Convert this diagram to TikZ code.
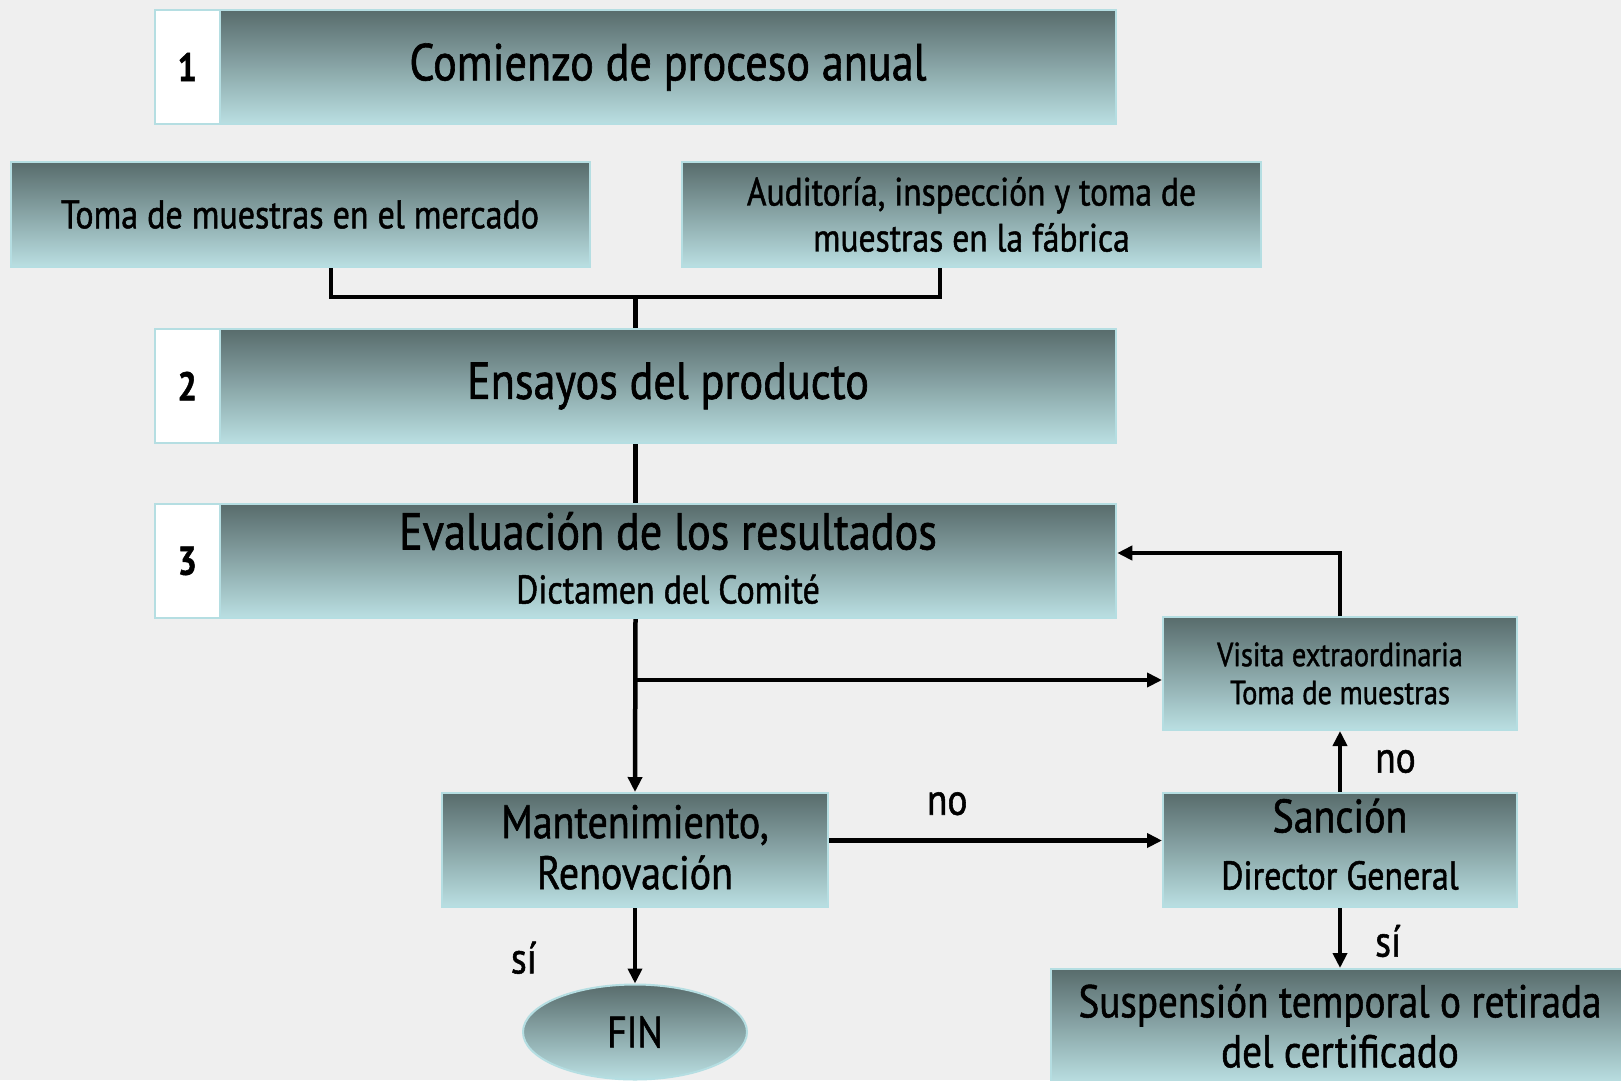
\documentclass[tikz,border=0pt]{standalone}
\usepackage{fontspec}
\setmainfont{PT Sans}[FakeStretch=0.85,FakeBold=1.2]
\usetikzlibrary{arrows.meta,shapes.geometric}

\definecolor{bgcol}{RGB}{239,239,239}
\definecolor{boxtop}{RGB}{88,108,108}
\definecolor{boxbot}{RGB}{186,223,226}
\definecolor{boxline}{RGB}{181,222,226}

\begin{document}
\begin{tikzpicture}[x=1pt,y=-1pt
	,box/.style={
		rectangle
		,draw=boxline
		,line width=2pt
		,top color=boxtop
		,bottom color=boxbot
		,inner sep=0
		,align=center
	}
	,numcell/.style={
		rectangle
		,draw=boxline
		,line width=2pt
		,fill=white
		,minimum width=65pt
		,minimum height=114pt
		,inner sep=0
		,font=\fontsize{40}{42}\selectfont\bfseries
	}
	,titletext/.style={inner sep=0,font=\fontsize{52}{58}\selectfont}
	,conn/.style={line width=4.5pt}
	,arr/.style={line width=4.5pt,-{Triangle[length=15pt,width=14pt]}}
	,lbl/.style={inner sep=0,font=\fontsize{44}{48}\selectfont}
]

\clip (0,0) rectangle (1621,1080);
\fill[bgcol] (0,0) rectangle (1621,1080);

% numbered steps
\foreach \i/\y in {1/67,2/386,3/561}{
	\node[box, minimum width=961.5pt, minimum height=114pt](b\i) at(635.5,\y) {};
	\node[numcell, anchor=west](n\i) at(b\i.west) {\i};
}
\node[titletext](t1) at([xshift=32.5pt]b1.center) {Comienzo de proceso anual};
\node[titletext](t2) at([xshift=32.5pt]b2.center) {Ensayos del producto};
\node[titletext, align=center, font=\fontsize{40}{54}\selectfont](t3) at([xshift=32.5pt,yshift=3pt]b3.center)
	{{\fontsize{52}{54}\selectfont Evaluación de los resultados}\\Dictamen del Comité};

% sampling
\node[box, minimum width=579pt, minimum height=105pt, font=\fontsize{40}{46}\selectfont](merc) at(300,214.5)
	{Toma de muestras en el mercado};
\node[box, minimum width=579pt, minimum height=105pt, font=\fontsize{39.5}{46}\selectfont](aud) at(971.5,214.5)
	{Auditoría, inspección y toma de\\muestras en la fábrica};

% outcomes
\node[box, minimum width=354pt, minimum height=113pt, font=\fontsize{33.5}{38}\selectfont](visita) at(1340,673.5)
	{Visita extraordinaria\\Toma de muestras};
\node[box, minimum width=354pt, minimum height=114pt, text depth=12pt, font=\fontsize{40}{57}\selectfont](sancion) at(1340,850)
	{{\fontsize{47}{57}\selectfont Sanción}\\Director General};
\node[box, minimum width=386pt, minimum height=114pt, text depth=6pt, font=\fontsize{47}{51}\selectfont](mant) at(635,850)
	{Mantenimiento,\\Renovación};
\node[box, ellipse, minimum width=224pt, minimum height=95pt, font=\fontsize{44}{48}\selectfont](fin) at(635,1032)
	{FIN};
\node[box, minimum width=578pt, minimum height=114pt, font=\fontsize{46}{50}\selectfont](susp) at(1340,1026)
	{Suspensión temporal o retirada\\del certificado};

% connectors
\coordinate (join) at(635.5,297);
\draw[conn] ([xshift=31pt]merc.south) |- (join) -- (b2.north);
\draw[conn] ([xshift=-31.5pt]aud.south) |- (join);
\draw[conn] (b2.south) -- (b3.north);
\draw[arr] (b3.south) -- (mant.north);

\coordinate (split) at(635.5,680);
\draw[arr] (split) -- (split -| visita.west);
\draw[arr] (visita.north) |- ([yshift=8pt]b3.east);
\draw[arr] (sancion.north) -- (visita.south) node[lbl, midway, right=33pt] {no};
\draw[arr] ([yshift=9.5pt]mant.east) -- ([yshift=9.5pt]sancion.west) node[lbl, pos=0.355, above=23pt] {no};
\draw[arr] (mant.south) -- (fin.north) node[lbl, pos=0.66, left=96pt] {sí};
\draw[arr] (sancion.south) -- (susp.north) node[lbl, pos=0.55, right=33pt] {sí};

\end{tikzpicture}
\end{document}
